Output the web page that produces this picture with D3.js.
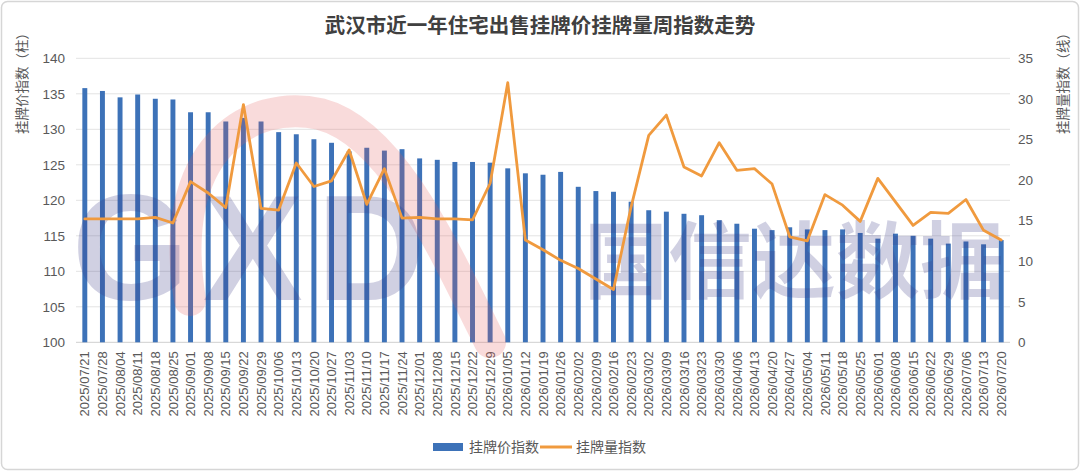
<!DOCTYPE html>
<html><head><meta charset="utf-8">
<script src="https://cdn.jsdelivr.net/npm/d3@7/dist/d3.min.js"></script>
<style>
html,body{margin:0;padding:0;background:#fff;}
svg{display:block;font-family:"Liberation Sans","Noto Sans CJK SC",sans-serif;}
</style></head>
<body>
<svg id="chart" width="1080" height="471"></svg>
<script>
const weeks = ["2025/07/21","2025/07/28","2025/08/04","2025/08/11","2025/08/18","2025/08/25","2025/09/01","2025/09/08","2025/09/15","2025/09/22","2025/09/29","2025/10/06","2025/10/13","2025/10/20","2025/10/27","2025/11/03","2025/11/10","2025/11/17","2025/11/24","2025/12/01","2025/12/08","2025/12/15","2025/12/22","2025/12/29","2026/01/05","2026/01/12","2026/01/19","2026/01/26","2026/02/02","2026/02/09","2026/02/16","2026/02/23","2026/03/02","2026/03/09","2026/03/16","2026/03/23","2026/03/30","2026/04/06","2026/04/13","2026/04/20","2026/04/27","2026/05/04","2026/05/11","2026/05/18","2026/05/25","2026/06/01","2026/06/08","2026/06/15","2026/06/22","2026/06/29","2026/07/06","2026/07/13","2026/07/20"];
const priceIndex = [135.8,135.4,134.5,134.9,134.3,134.2,132.4,132.4,131.1,131.6,131.1,129.6,129.3,128.6,128.1,126.9,127.4,127.0,127.2,125.9,125.7,125.4,125.4,125.3,124.5,123.8,123.6,124.0,121.9,121.3,121.2,119.8,118.6,118.4,118.1,117.9,117.2,116.7,116.0,115.8,116.2,115.9,115.8,115.9,115.4,114.6,115.3,115.0,114.6,113.9,114.2,113.8,114.4];
const listingIndex = [15.2,15.2,15.2,15.2,15.4,14.7,19.8,18.4,16.6,29.3,16.5,16.3,22.1,19.2,19.9,23.7,17.0,21.4,15.3,15.4,15.2,15.2,15.1,19.6,32.0,12.6,11.4,10.1,9.1,7.8,6.5,16.7,25.5,28.0,21.6,20.5,24.6,21.2,21.4,19.5,13.0,12.5,18.2,16.9,14.9,20.2,17.3,14.4,16.0,15.9,17.6,13.8,12.6];
const leftTicks = [100,105,110,115,120,125,130,135,140];
const rightTicks = [0,5,10,15,20,25,30,35];
const titleText = "武汉市近一年住宅出售挂牌价挂牌量周指数走势";
const leftTitle = "挂牌价指数（柱）";
const rightTitle = "挂牌量指数（线）";
const seriesNames = ["挂牌价指数","挂牌量指数"];

const W = 1080, H = 471;
const m = {left:76, right:70, top:58.3, bottom:128.7};
const svg = d3.select("#chart");
const barColor = "#3d72b8", lineColor = "#f09a3e", textColor = "#595959";

svg.append("rect").attr("x",1.5).attr("y",1.5).attr("width",W-3).attr("height",H-3)
  .attr("rx",6).attr("fill","#fff").attr("stroke","#d6d6d6").attr("stroke-width",1.5);

const x = d3.scaleBand().domain(weeks).range([m.left, W-m.right]).paddingInner(0.72).paddingOuter(0.36);
const yL = d3.scaleLinear().domain([100,140]).range([H-m.bottom, m.top]);
const yR = d3.scaleLinear().domain([0,35]).range([H-m.bottom, m.top]);

// gridlines
const grid = svg.append("g");
grid.selectAll("line").data(leftTicks).join("line")
  .attr("x1",m.left).attr("x2",W-m.right)
  .attr("y1",d=>yL(d)).attr("y2",d=>yL(d))
  .attr("stroke",d=>d===100?"#cfcfcf":"#e3e3e3").attr("stroke-width",1);

// left axis
const axL = svg.append("g").attr("transform",`translate(${m.left},0)`)
  .call(d3.axisLeft(yL).tickValues(leftTicks).tickSize(0).tickPadding(11));
axL.select(".domain").remove();
axL.selectAll("text").attr("fill",textColor).style("font-size","13.5px");

// right axis
const axR = svg.append("g").attr("transform",`translate(${W-m.right},0)`)
  .call(d3.axisRight(yR).tickValues(rightTicks).tickSize(0).tickPadding(8));
axR.select(".domain").remove();
axR.selectAll("text").attr("fill",textColor).style("font-size","13.5px");

// x axis
const axX = svg.append("g").attr("transform",`translate(0,${H-m.bottom})`)
  .call(d3.axisBottom(x).tickSize(0).tickPadding(0));
axX.select(".domain").remove();
axX.selectAll("text").attr("fill",textColor).style("font-size","13px")
  .attr("text-anchor","end").attr("transform","rotate(-90)")
  .attr("x",-9).attr("y",0).attr("dy","0.36em");

// bars
svg.append("g").selectAll("rect").data(weeks).join("rect")
  .attr("x",d=>x(d)).attr("width",x.bandwidth())
  .attr("y",(d,i)=>yL(priceIndex[i])).attr("height",(d,i)=>yL(100)-yL(priceIndex[i]))
  .attr("fill",barColor);

// watermark (decoration)
const wm = svg.append("g").attr("pointer-events","none");
wm.append("path").attr("d","M190,300 C165,150 250,98 320,114 C390,132 440,240 490,342")
  .attr("fill","none").attr("stroke","#e35a5a").attr("stroke-opacity",0.22)
  .attr("stroke-width",32).attr("stroke-linecap","round");
wm.append("text").attr("x",72).attr("y",300).text("GXD")
  .attr("font-family","Liberation Sans, sans-serif").attr("font-weight","bold")
  .attr("font-size",150).attr("letter-spacing",14)
  .attr("fill","#3b3b85").attr("fill-opacity",0.24);
wm.append("text").attr("x",584).attr("y",292).text("国信达数据")
  .attr("font-family","Noto Sans CJK SC, sans-serif").attr("font-weight","bold")
  .attr("font-size",84)
  .attr("fill","#3b3b85").attr("fill-opacity",0.24);

// line
const line = d3.line().x((d,i)=>x(weeks[i])+x.bandwidth()/2).y(d=>yR(d));
svg.append("path").datum(listingIndex).attr("d",line)
  .attr("fill","none").attr("stroke",lineColor).attr("stroke-width",2.8)
  .attr("stroke-linejoin","round").attr("stroke-linecap","round");

// title
svg.append("text").attr("x",540).attr("y",33).attr("text-anchor","middle")
  .attr("font-size",20.5).attr("font-weight","bold").attr("fill","#404040")
  .attr("font-family","Noto Sans CJK SC, sans-serif").text(titleText);

// axis titles
svg.append("text").attr("transform","translate(22,80) rotate(-90)")
  .attr("text-anchor","middle").attr("dy","0.35em").attr("font-size",13.5).attr("fill",textColor)
  .attr("font-family","Noto Sans CJK SC, sans-serif").text(leftTitle);
svg.append("text").attr("transform","translate(1063,80) rotate(-90)")
  .attr("text-anchor","middle").attr("dy","0.35em").attr("font-size",13.5).attr("fill",textColor)
  .attr("font-family","Noto Sans CJK SC, sans-serif").text(rightTitle);

// legend
const lg = svg.append("g").attr("transform","translate(433,447)");
lg.append("rect").attr("x",0).attr("y",-4).attr("width",30).attr("height",8).attr("fill",barColor);
lg.append("text").attr("x",36).attr("y",0).attr("dy","0.35em").attr("font-size",14).attr("fill",textColor)
  .attr("font-family","Noto Sans CJK SC, sans-serif").text(seriesNames[0]);
lg.append("line").attr("x1",107).attr("x2",139).attr("y1",0).attr("y2",0)
  .attr("stroke",lineColor).attr("stroke-width",3);
lg.append("text").attr("x",143).attr("y",0).attr("dy","0.35em").attr("font-size",14).attr("fill",textColor)
  .attr("font-family","Noto Sans CJK SC, sans-serif").text(seriesNames[1]);
</script>
</body></html>
